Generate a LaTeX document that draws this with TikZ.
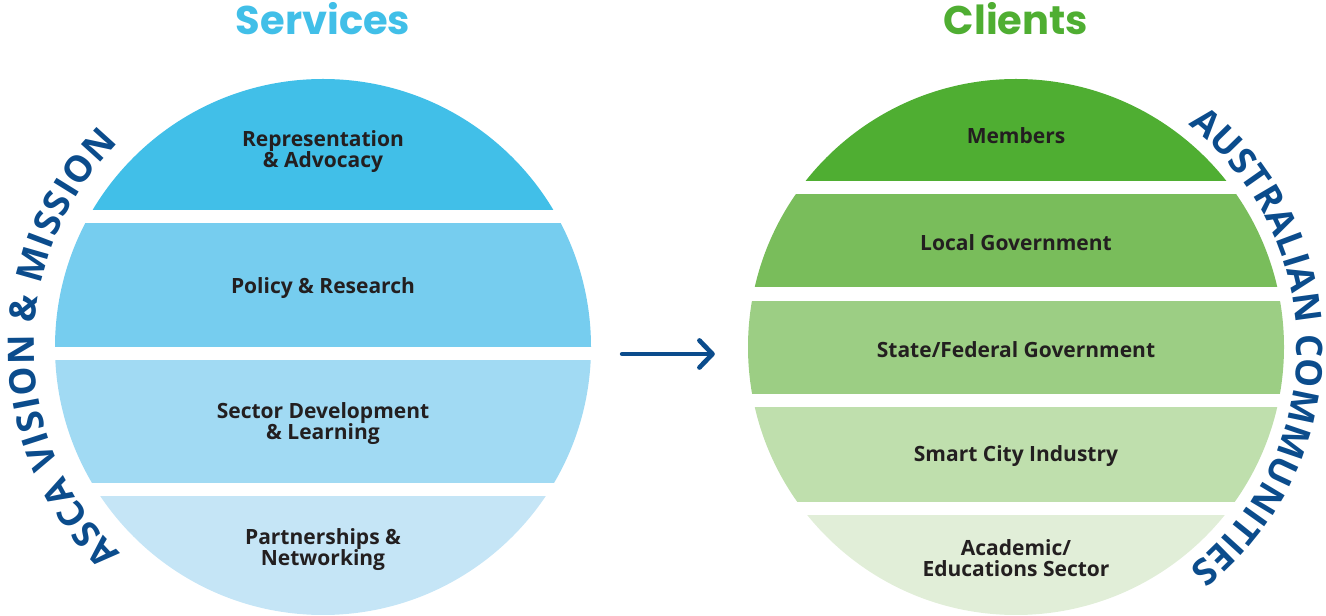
\documentclass[tikz,border=0pt]{standalone}
\usepackage{fontspec}
\usetikzlibrary{arrows.meta}
\newfontfamily\opensans{Open Sans}
\newfontfamily\titlesans{Poppins}
\definecolor{svcA}{HTML}{41BFE8}
\definecolor{svcB}{HTML}{76CDEF}
\definecolor{svcC}{HTML}{A1DAF3}
\definecolor{svcD}{HTML}{C5E5F6}
\definecolor{cliA}{HTML}{4FAE32}
\definecolor{cliB}{HTML}{79BD5B}
\definecolor{cliC}{HTML}{9CCE84}
\definecolor{cliD}{HTML}{BFDFAD}
\definecolor{cliE}{HTML}{E1EED8}
\definecolor{navy}{HTML}{0B4C8C}
\definecolor{labelink}{HTML}{231F20}
\newcommand\bandfont{\opensans\bfseries\fontsize{21}{21}\selectfont}
\newcommand\arcfont{\opensans\bfseries\fontsize{36.5}{36.5}\selectfont}
\newcommand\headfont{\titlesans\bfseries\fontsize{40}{40}\selectfont}

% letters set one by one round an arc, spread evenly to fill it
\newlength\glyphw
\newcommand\arcspace{9.5pt}
\def\spacemark{*}
\newcommand\measureglyph[1]{%
  \edef\curglyph{#1}%
  \ifx\curglyph\spacemark\global\glyphw=\arcspace\relax
  \else
    \begin{pgfinterruptpicture}%
      \settowidth\glyphw{\normalfont\arcfont #1}\global\glyphw=\glyphw
    \end{pgfinterruptpicture}%
  \fi}
% #1 centre node, #2 radius, #3 start angle, #4 end angle, #5 glyph list, #6 name prefix
\newcommand\arcword[6]{%
  \xdef\totw{0}\xdef\nglyph{0}%
  \foreach \g in {#5}{%
    \measureglyph{\g}%
    \pgfmathsetmacro\tmpw{\totw+\glyphw}\xdef\totw{\tmpw}%
    \pgfmathtruncatemacro\tmpn{\nglyph+1}\xdef\nglyph{\tmpn}}%
  \pgfmathsetmacro\arclen{#2*pi/180*abs(#4-#3)}%
  \pgfmathsetmacro\glyphgap{(\arclen-\totw)/(\nglyph-1)}%
  \xdef\cum{0}%
  \foreach \g [count=\gi] in {#5}{%
    \measureglyph{\g}%
    \pgfmathsetmacro\sarc{\cum+\glyphw/2}%
    \pgfmathsetmacro\gang{#3+sign(#4-#3)*(\sarc/#2)*(180/pi)}%
    \ifx\curglyph\spacemark\else
      \node[arcglyph,rotate=\gang-90] (#6\gi) at ([shift={(\gang:#2)}]#1.center) {\g};
    \fi
    \pgfmathsetmacro\tmpc{\cum+\glyphw+\glyphgap}\xdef\cum{\tmpc}}%
}

\begin{document}
\begin{tikzpicture}[x=1pt,y=1pt,
  ring/.style={circle,minimum size=536pt,inner sep=0pt},
  bandlabel/.style={font=\bandfont,text=labelink,align=center,inner sep=0pt},
  heading/.style={font=\headfont,anchor=base,inner sep=0pt},
  arcglyph/.style={font=\arcfont,text=navy,anchor=base,inner sep=0pt}]
\useasboundingbox (0,0) rectangle (1326,616);

% the two discs
\node[ring] (services) at (323,269) {};
\node[ring] (clients) at (1016,269) {};

% Services bands
\begin{scope}
  \clip (services.center) circle[radius=268];
  \fill[svcA] (40,406) rectangle (610,540);
  \fill[svcB] (40,269) rectangle (610,393);
  \fill[svcC] (40,133) rectangle (610,256);
  \fill[svcD] (40,0) rectangle (610,120);
\end{scope}

% Clients bands
\begin{scope}
  \clip (clients.center) circle[radius=268];
  \fill[cliA] (740,435) rectangle (1300,540);
  \fill[cliB] (740,329) rectangle (1300,422);
  \fill[cliC] (740,222) rectangle (1300,315);
  \fill[cliD] (740,114) rectangle (1300,209);
  \fill[cliE] (740,0) rectangle (1300,101);
\end{scope}

% headings
\node[heading,text=svcA] (svchead) at (323,581) {Services};
\node[heading,text=cliA] (clihead) at (1016,581) {Clients};

% band labels
\node[bandlabel] (rep) at (323,464) {Representation\\\& Advocacy};
\node[bandlabel] (pol) at (323,328) {Policy \& Research};
\node[bandlabel] (sec) at (323,192) {Sector Development\\\& Learning};
\node[bandlabel] (par) at (323,66) {Partnerships \&\\Networking};

\node[bandlabel] (mem) at (1016,480.5) {Members};
\node[bandlabel] (loc) at (1016,373.5) {Local Government};
\node[bandlabel] (sta) at (1016,266.5) {State/Federal Government};
\node[bandlabel] (sma) at (1016,159.5) {Smart City Industry};
\node[bandlabel] (aca) at (1016,57.5) {Academic/\\Educations Sector};

% curved captions
\arcword{services}{289}{225.6}{134.9}{A,S,C,A,*,V,I,S,I,O,N,*,\&,*,M,I,S,S,I,O,N}{vis}
\arcword{clients}{281}{52.3}{-51.9}{A,U,S,T,R,A,L,I,A,N,*,C,O,M,M,U,N,I,T,I,E,S}{aus}

% arrow between the discs
\draw[navy,line width=4.7pt,line cap=round,
  -{Straight Barb[length=13pt,width=27pt,line join=round,line cap=round]}]
  ([shift={(31,-7)}]services.east) -- ([shift={(-33,-7)}]clients.west);
\end{tikzpicture}
\end{document}
